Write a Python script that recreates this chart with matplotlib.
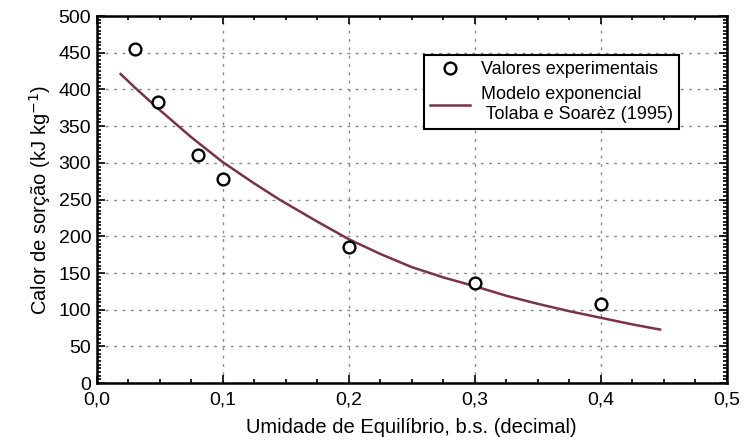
import matplotlib.pyplot as plt
from matplotlib.ticker import MultipleLocator, FuncFormatter

plt.rcParams['font.family'] = ['Liberation Sans', 'DejaVu Sans']

# valores experimentais
x_exp = [0.030, 0.049, 0.080, 0.100, 0.200, 0.300, 0.400]
q_exp = [455, 383, 311, 278, 185, 136, 108]

# modelo exponencial
x_mod = [0.019, 0.030, 0.050, 0.075, 0.100, 0.125, 0.145, 0.175, 0.200, 0.225,
         0.250, 0.275, 0.300, 0.325, 0.350, 0.375, 0.400, 0.425, 0.447]
q_mod = [421, 403, 372, 335, 301, 272, 250, 220, 196, 176,
         158, 144, 132, 119, 108, 98, 89, 80, 73]

fig = plt.figure(figsize=(7.44, 4.45), dpi=100)
ax = fig.add_axes([0.130, 0.139, 0.847, 0.825])

ax.plot(x_mod, q_mod, color="#7b3344", lw=1.8,
        label="Modelo exponencial\n Tolaba e Soarèz (1995)")
ax.plot(x_exp, q_exp, "o", mfc="white", mec="black", mew=1.7, ms=8.5,
        label="Valores experimentais", zorder=3)

ax.set_xlim(0, 0.5)
ax.set_ylim(0, 500)
ax.xaxis.set_major_locator(MultipleLocator(0.1))
ax.xaxis.set_minor_locator(MultipleLocator(0.025))
ax.yaxis.set_major_locator(MultipleLocator(50))
ax.yaxis.set_minor_locator(MultipleLocator(5))
ax.xaxis.set_major_formatter(FuncFormatter(lambda v, p: f"{v:.1f}".replace(".", ",")))

ax.tick_params(which="both", direction="in", top=True, right=True, width=1.2)
ax.tick_params(which="major", length=6, labelsize=14)
ax.tick_params(which="minor", length=3)
ax.tick_params(axis="x", pad=6)
ax.tick_params(axis="y", pad=4)
for s in ax.spines.values():
    s.set_linewidth(1.8)

ax.grid(True, which="major", ls=(0, (2, 4)), color="#888888", lw=1)

ax.set_xlabel("Umidade de Equilíbrio, b.s. (decimal)", fontsize=14.5, labelpad=7)
ax.set_ylabel("Calor de sorção (kJ kg$^{-1}$)", fontsize=14.5, labelpad=4)

h, l = ax.get_legend_handles_labels()
leg = ax.legend(h[::-1], l[::-1], loc="upper left", bbox_to_anchor=(0.519, 0.894),
                fontsize=13, frameon=True, fancybox=False, edgecolor="black",
                borderpad=0.35, handlelength=2.2, handletextpad=0.6,
                labelspacing=0.45, framealpha=1, borderaxespad=0)
leg.get_frame().set_linewidth(1.5)

plt.savefig("out.png", dpi=100)
